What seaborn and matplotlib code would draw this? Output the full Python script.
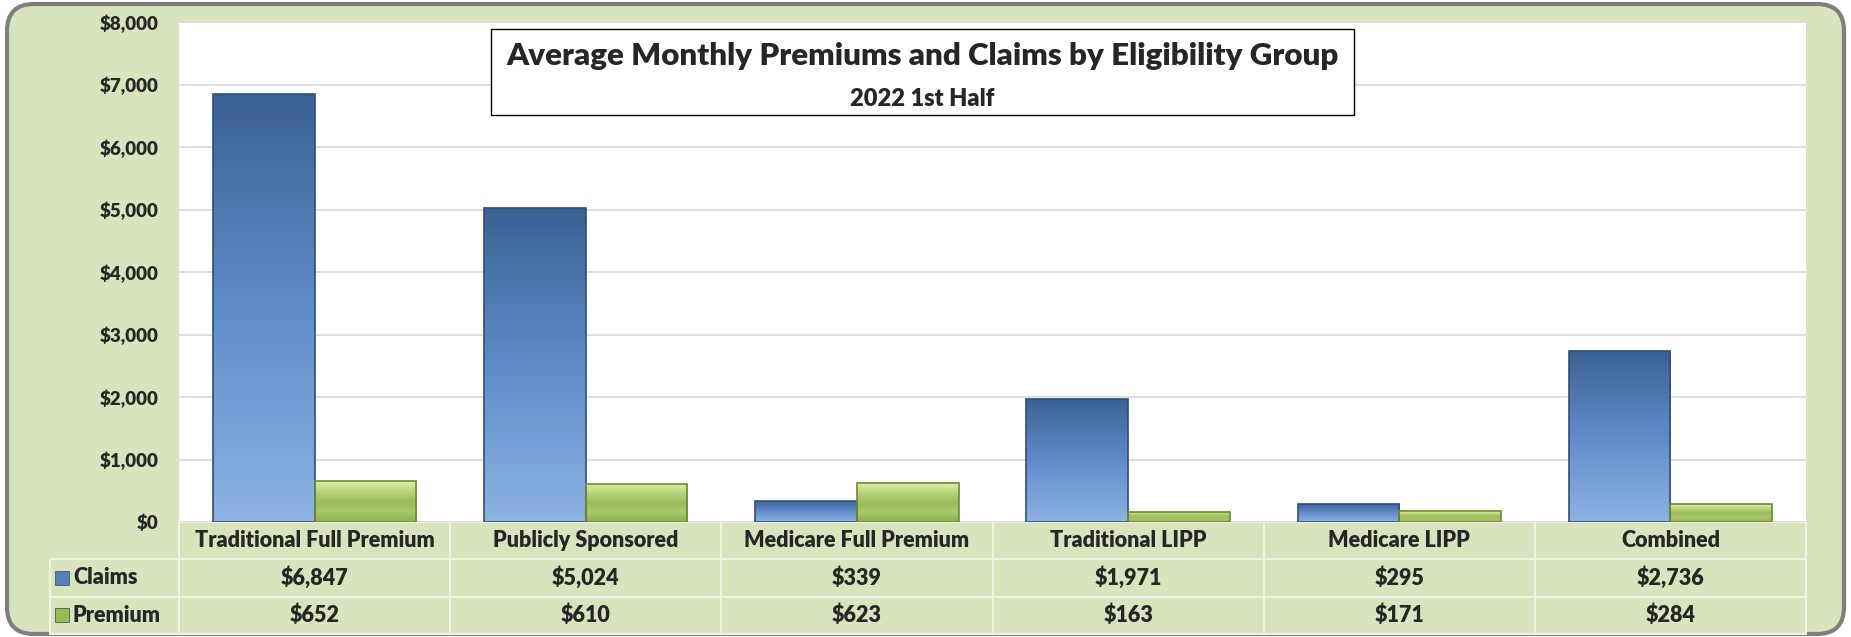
import seaborn as sns
import matplotlib.pyplot as plt
import numpy as np
import pandas as pd
from matplotlib.patches import FancyBboxPatch, Rectangle
from matplotlib.colors import LinearSegmentedColormap
from matplotlib.ticker import FuncFormatter

groups = ["Traditional Full Premium", "Publicly Sponsored", "Medicare Full Premium",
          "Traditional LIPP", "Medicare LIPP", "Combined"]
claims = [6847, 5024, 339, 1971, 295, 2736]
premium = [652, 610, 623, 163, 171, 284]
series = ["Claims", "Premium"]
title = "Average Monthly Premiums and Claims by Eligibility Group"
subtitle = "2022 1st Half"

W, H, DPI = 1851, 637, 100
GREEN_BG = "#D7E4BD"
WT = "heavy"

sns.set_style("white")
plt.rcParams["font.family"] = ["Lato", "DejaVu Sans"]

df = pd.DataFrame({
    "group": groups * 2,
    "series": ["Claims"] * len(groups) + ["Premium"] * len(groups),
    "value": claims + premium,
})

fig = plt.figure(figsize=(W / DPI, H / DPI), dpi=DPI)
fig.patch.set_facecolor("white")

# rounded green frame, drawn in pixel units
bg = fig.add_axes([0, 0, 1, 1])
bg.set_xlim(0, W)
bg.set_ylim(0, H)
bg.axis("off")
bg.add_patch(FancyBboxPatch((7, 3), W - 14, H - 7, boxstyle="round,pad=0,rounding_size=27",
                            facecolor=GREEN_BG, edgecolor="#7F7F7F", linewidth=3))

left, right, top, bottom = 179, 1806, 22, 522
ax = fig.add_axes([left / W, (H - bottom) / H, (right - left) / W, (bottom - top) / H])
ax.set_facecolor("white")

sns.barplot(data=df, x="group", y="value", hue="series", order=groups, hue_order=series,
            palette=["#4F81BD", "#9BBB59"], width=0.75, legend=False, saturation=1,
            ax=ax, zorder=3)

ax.set_ylim(0, 8000)
ax.set_yticks(np.arange(0, 8001, 1000))
ax.yaxis.set_major_formatter(FuncFormatter(lambda v, p: f"${v:,.0f}"))
ax.tick_params(axis="y", length=0, labelsize=13.5, pad=15)
for t in ax.get_yticklabels():
    t.set_fontweight(WT)
ax.set_xticks(range(len(groups)))
ax.set_xticklabels([])
ax.tick_params(axis="x", length=0)
ax.set_xlabel("")
ax.set_ylabel("")
ax.grid(axis="y", color="#D9D9D9", linewidth=1.2, zorder=0)
ax.set_axisbelow(True)
for s in ax.spines.values():
    s.set_visible(False)

# shaded bars
blue_cm = LinearSegmentedColormap.from_list("b", ["#8DB2E3", "#5F8CC9", "#3C6294"])
green_cm = LinearSegmentedColormap.from_list("g", ["#8FAE4C", "#A8C76A", "#9DBB5A", "#B9D47A", "#DDF0A8"])
xl = ax.get_xlim()
for i, bar in enumerate(ax.patches):
    x0, w, h = bar.get_x(), bar.get_width(), bar.get_height()
    if h <= 0:
        continue
    cm = blue_cm if i < len(groups) else green_cm
    grad = np.linspace(0, 1, 100).reshape(-1, 1)
    im = ax.imshow(grad, extent=[x0, x0 + w, 0, h], origin="lower", aspect="auto",
                   cmap=cm, zorder=3.5)
    im.set_clip_path(bar)
    bar.set_edgecolor("#2F4F77" if i < len(groups) else "#6E8A33")
    bar.set_linewidth(1.2)
    bar.set_zorder(4)
    bar.set_facecolor("none")
ax.set_xlim(xl)
ax.set_ylim(0, 8000)

# title box
axw = right - left
axh = bottom - top


def ay(ypix):
    return (bottom - ypix) / axh


ax.add_patch(Rectangle(((491 - left) / axw, ay(115)), (1354 - 491) / axw, ay(29) - ay(115),
                       transform=ax.transAxes, facecolor="white", edgecolor="black",
                       linewidth=1, zorder=6))
xc = ((491 + 1354) / 2 - left) / axw
ax.text(xc, ay(65), title, transform=ax.transAxes, ha="center", va="baseline",
        fontsize=22.5, fontweight=WT, zorder=7)
ax.text(xc, ay(106), subtitle, transform=ax.transAxes, ha="center", va="baseline",
        fontsize=17, fontweight=WT, zorder=7)

# data table under the plot
tab_left = 50
tab_h = 112
cells = [[""] + groups,
         [""] + [f"${v:,}" for v in claims],
         [""] + [f"${v:,}" for v in premium]]
colw = [left - tab_left] + [axw / len(groups)] * len(groups)
tbl = ax.table(cellText=cells, colWidths=[c / sum(colw) for c in colw], cellLoc="center",
               bbox=[(tab_left - left) / axw, -tab_h / axh, (right - tab_left) / axw, tab_h / axh])
tbl.auto_set_font_size(False)
for (r, c), cell in tbl.get_celld().items():
    cell.set_facecolor(GREEN_BG)
    cell.set_edgecolor("#EEF3E3")
    cell.set_linewidth(1.5)
    cell.get_text().set_fontsize(15.5)
    cell.get_text().set_fontweight(WT)
    if r == 0 and c == 0:
        cell.visible_edges = ""

row_h = tab_h / 3
for k, (name, col) in enumerate(zip(series, ["#4F81BD", "#9BBB59"])):
    yc = -(row_h * (k + 1.5)) / axh
    ax.add_patch(Rectangle(((55 - left) / axw, yc - 7 / axh), 14 / axw, 14 / axh,
                           transform=ax.transAxes, facecolor=col, edgecolor="#555555",
                           linewidth=0.6, clip_on=False, zorder=10))
    ax.text((73 - left) / axw, yc, name, transform=ax.transAxes, ha="left", va="center",
            fontsize=15.5, fontweight=WT, zorder=10)

fig.savefig("out.png", dpi=DPI)
